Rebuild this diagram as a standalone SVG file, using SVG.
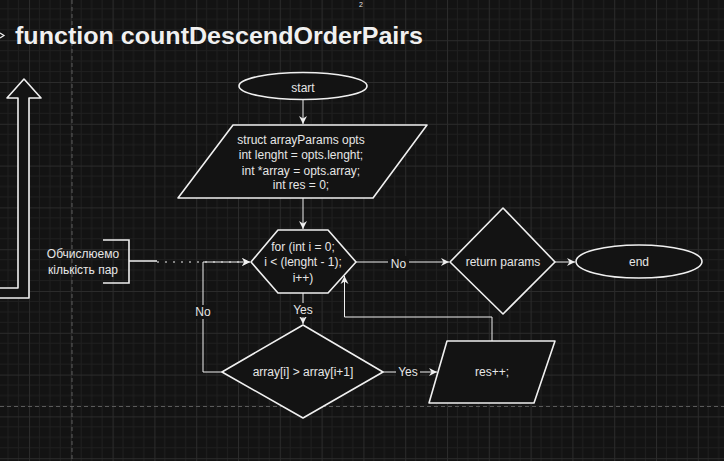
<svg xmlns="http://www.w3.org/2000/svg" width="724" height="461" viewBox="0 0 724 461">
<defs>
<pattern id="grid" patternUnits="userSpaceOnUse" x="29" y="82" width="41.8" height="41.8">
<path d="M10.45,0V41.8M20.9,0V41.8M31.35,0V41.8M0,10.45H41.8M0,20.9H41.8M0,31.35H41.8" stroke="#1f1f1f" stroke-width="1" fill="none"/>
<path d="M0.5,0V41.8M0,0.5H41.8" stroke="#2b2b2b" stroke-width="1" fill="none"/>
</pattern>
<marker id="arr" markerUnits="userSpaceOnUse" markerWidth="10" markerHeight="10" refX="8" refY="4" orient="auto" viewBox="0 0 10 8">
<path d="M0,0 L8,4 L0,8 L2.5,4 Z" fill="#f0f0f0"/>
</marker>
<style>
.shape{fill:#131313;stroke:#f0f0f0;stroke-width:1.6;stroke-linejoin:round}
.conn{fill:none;stroke:#f0f0f0;stroke-width:1}
.lbl{font-family:"Liberation Sans",Arial,sans-serif;font-size:12px;fill:#e6e6e6;text-anchor:middle;dominant-baseline:central}
.lblbg{fill:#131313}
.pb{stroke:#5a5a5a;stroke-width:1;stroke-dasharray:4 3;fill:none}
</style>
</defs>
<rect width="724" height="461" fill="#131313"/>
<rect width="724" height="461" fill="url(#grid)"/>
<path class="pb" d="M72,0V461M0,406.5H724"/>

<g id="title">
<polyline points="0,33 4,35.5 0,38" fill="none" stroke="#f0f0f0" stroke-width="1.2"/>
<text x="15" y="44" font-family="'Liberation Sans',Arial,sans-serif" font-weight="bold" font-size="24" textLength="408" lengthAdjust="spacingAndGlyphs" fill="#f0f0f0">function countDescendOrderPairs</text>
<text x="361" y="7" font-family="'Liberation Sans',Arial,sans-serif" font-size="7" fill="#e6e6e6" text-anchor="middle">2</text>
</g>

<g id="bigArrow">
<path class="shape" d="M0,288 H18 V98 H7 L24,79 L41,98 H29 V298 H0"/>
</g>

<g id="note">
<path d="M103,240 H129 V283 H103 M129,261 H157" fill="none" stroke="#f0f0f0" stroke-width="1.6"/>
<text class="lbl" x="83" y="254">Обчислюемо</text>
<text class="lbl" x="83" y="270">кількість пар</text>
</g>

<g id="connectors">
<path class="conn" d="M157,262 H250" stroke-width="2" stroke-dasharray="2 6" marker-end="url(#arr)"/>
<path class="conn" d="M303,99.5 V124" marker-end="url(#arr)"/>
<path class="conn" d="M303,198 V229" marker-end="url(#arr)"/>
<path class="conn" d="M356,262 H449" marker-end="url(#arr)"/>
<path class="conn" d="M555,262 H575" marker-end="url(#arr)"/>
<path class="conn" d="M303,293 V324" marker-end="url(#arr)"/>
<path class="conn" d="M383,372 H437" marker-end="url(#arr)"/>
<path class="conn" d="M492,341 V317 H344.5 V276" marker-end="url(#arr)"/>
<path class="conn" d="M222,372 H203 V262 H250" marker-end="url(#arr)"/>
<rect class="lblbg" x="388" y="256" width="21" height="14"/>
<text class="lbl" x="398.5" y="264">No</text>
<rect class="lblbg" x="291" y="303" width="24" height="14"/>
<text class="lbl" x="303" y="310">Yes</text>
<rect class="lblbg" x="396" y="365" width="24" height="14"/>
<text class="lbl" x="408" y="372">Yes</text>
<rect class="lblbg" x="193" y="305" width="21" height="14"/>
<text class="lbl" x="203" y="312">No</text>
</g>

<g id="start">
<ellipse class="shape" cx="303" cy="86" rx="64" ry="13.5"/>
<text class="lbl" x="303" y="88">start</text>
</g>

<g id="init">
<path class="shape" d="M233,125 H427 L373,198 H178 Z"/>
<text class="lbl" x="301" y="140">struct arrayParams opts</text>
<text class="lbl" x="301" y="155">int lenght = opts.lenght;</text>
<text class="lbl" x="301" y="171">int *array = opts.array;</text>
<text class="lbl" x="301" y="185">int res = 0;</text>
</g>

<g id="loop">
<path class="shape" d="M278,230 H328 L356,262 L328,293 H278 L251,262 Z"/>
<text class="lbl" x="303" y="247">for (int i = 0;</text>
<text class="lbl" x="303" y="262">i &lt; (lenght - 1);</text>
<text class="lbl" x="303" y="278">i++)</text>
</g>

<g id="return">
<path class="shape" d="M503,208 L555,262 L503,314 L450,262 Z"/>
<text class="lbl" x="503" y="262">return params</text>
</g>

<g id="end">
<ellipse class="shape" cx="639" cy="261.5" rx="63" ry="16.5"/>
<text class="lbl" x="639" y="262">end</text>
</g>

<g id="cond">
<path class="shape" d="M303,325 L383,372 L303,418 L222,372 Z"/>
<text class="lbl" x="303" y="372">array[i] &gt; array[i+1]</text>
</g>

<g id="inc">
<path class="shape" d="M447,341 H555 L534,403 H429 Z" stroke="#c8c8c8"/>
<text class="lbl" x="492" y="372">res++;</text>
</g>
</svg>
